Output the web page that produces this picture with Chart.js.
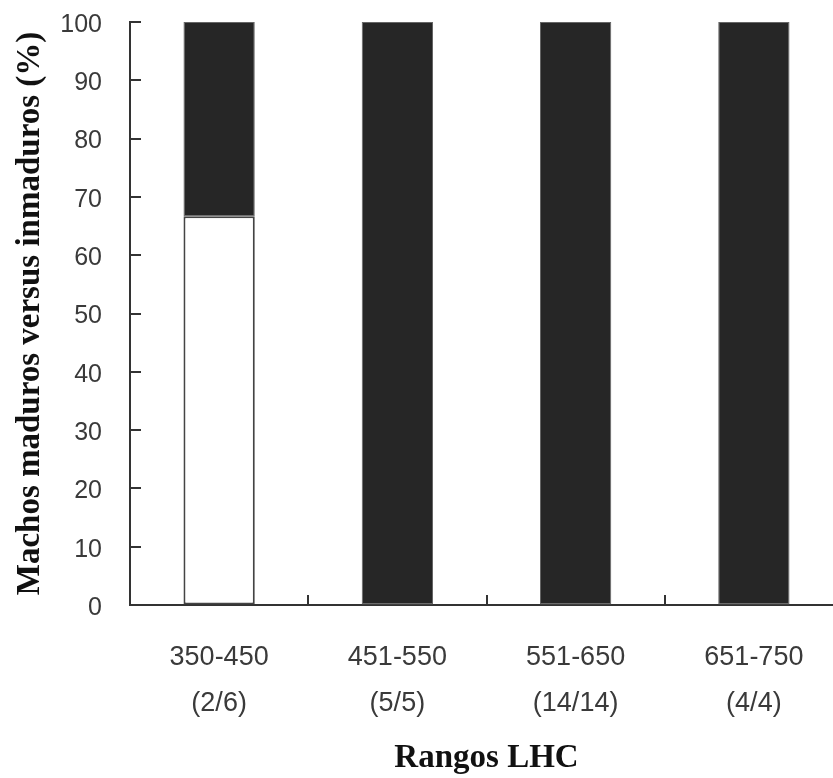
<!DOCTYPE html>
<html>
<head>
<meta charset="utf-8">
<script src="https://cdn.jsdelivr.net/npm/chart.js@4/dist/chart.umd.min.js"></script>
<style>
  html, body { margin: 0; padding: 0; background: #fff; overflow: hidden; }
  #wrap { width: 850px; height: 778px; }
</style>
</head>
<body>
<div id="wrap"><canvas id="chart" width="850" height="778"></canvas></div>
<script>
// data
const rangos = ['350-450', '451-550', '551-650', '651-750'];
const conteos = ['(2/6)', '(5/5)', '(14/14)', '(4/4)'];
const inmaduros = [66.7, 0, 0, 0];
const maduros = [33.3, 100, 100, 100];
const yTicks = [0, 10, 20, 30, 40, 50, 60, 70, 80, 90, 100];

const axisColor = '#333';

// short inward tick marks, like the original plot
const innerTicks = {
    id: 'innerTicks',
    afterDraw(chart) {
        const { ctx, chartArea, scales } = chart;
        const x = scales.x, y = scales.y;
        ctx.save();
        ctx.strokeStyle = axisColor;
        ctx.lineWidth = 2;
        ctx.beginPath();
        yTicks.forEach(v => {
            const py = Math.round(y.getPixelForValue(v));
            ctx.moveTo(chartArea.left, py);
            ctx.lineTo(chartArea.left + 11, py);
        });
        for (let i = 0; i < rangos.length - 1; i++) {
            const px = Math.round((x.getPixelForValue(i) + x.getPixelForValue(i + 1)) / 2);
            ctx.moveTo(px, chartArea.bottom);
            ctx.lineTo(px, chartArea.bottom - 10);
        }
        ctx.stroke();
        ctx.restore();
    }
};

new Chart(document.getElementById('chart'), {
    type: 'bar',
    data: {
        labels: rangos.map((r, i) => [r, conteos[i]]),
        datasets: [
            {
                label: 'Inmaduros',
                data: inmaduros,
                backgroundColor: '#ffffff',
                borderColor: '#444',
                borderWidth: 2,
                borderSkipped: false
            },
            {
                label: 'Maduros',
                data: maduros,
                backgroundColor: '#262626',
                borderColor: '#666',
                borderWidth: 1,
                borderSkipped: false
            }
        ]
    },
    options: {
        responsive: false,
        animation: false,
        layout: { padding: { top: 22, right: 7, left: 0, bottom: 0 } },
        plugins: {
            legend: { display: false },
            tooltip: { enabled: false }
        },
        datasets: {
            bar: { categoryPercentage: 1, barPercentage: 0.4 }
        },
        scales: {
            x: {
                stacked: true,
                grid: { display: true, drawOnChartArea: false, drawTicks: false },
                border: { display: true, color: axisColor, width: 2 },
                ticks: {
                    color: '#3a3a3a',
                    padding: 29,
                    maxRotation: 0,
                    font: { family: 'Liberation Sans', size: 27, lineHeight: 1.72 }
                },
                title: {
                    display: true,
                    text: 'Rangos LHC',
                    color: '#111',
                    padding: { top: 0, bottom: 0 },
                    font: { family: 'Liberation Serif', size: 33, weight: 'bold', lineHeight: 1.2 }
                },
                afterFit(scale) {
                    scale.height = 173;
                    scale.paddingLeft = 0;
                    scale.paddingRight = 0;
                }
            },
            y: {
                stacked: true,
                min: 0,
                max: 100,
                grid: { display: true, drawOnChartArea: false, drawTicks: false },
                border: { display: true, color: axisColor, width: 2 },
                ticks: {
                    stepSize: 10,
                    color: '#3a3a3a',
                    padding: 28,
                    labelOffset: 3,
                    font: { family: 'Liberation Sans', size: 25 }
                },
                title: {
                    display: true,
                    text: 'Machos maduros versus inmaduros (%)',
                    color: '#111',
                    padding: { top: 11, bottom: 0 },
                    font: { family: 'Liberation Serif', size: 33, weight: 'bold', lineHeight: 1.2 }
                },
                afterFit(scale) {
                    scale.width = 130;
                    scale.paddingTop = 0;
                    scale.paddingBottom = 0;
                }
            }
        }
    },
    plugins: [innerTicks]
});
</script>
</body>
</html>
